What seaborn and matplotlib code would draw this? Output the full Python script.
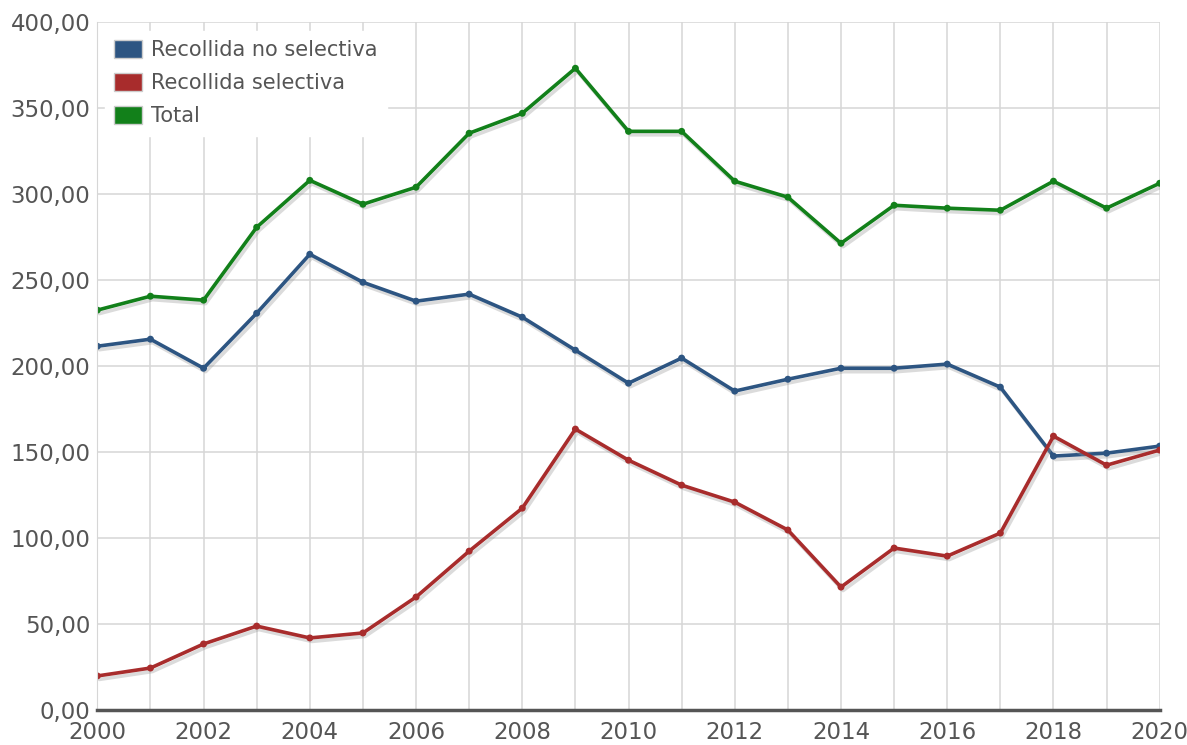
import pandas as pd
import matplotlib.pyplot as plt
import matplotlib.patheffects as pe
from matplotlib.patches import Patch
import seaborn as sns

years = list(range(2000, 2021))
no_selectiva = [211.6, 215.7, 198.8, 230.8, 265.1, 248.8, 237.8, 241.9, 228.5, 209.3, 190.1,
                204.7, 185.5, 192.4, 198.8, 198.8, 201.2, 187.8, 147.7, 149.4, 153.5]
selectiva = [19.8, 24.4, 38.4, 48.8, 41.9, 44.8, 65.7, 92.4, 117.4, 163.4, 145.3,
             130.8, 120.9, 104.7, 71.5, 94.2, 89.5, 102.9, 159.3, 142.4, 151.2]
total = [232.6, 240.7, 238.4, 280.8, 308.1, 294.2, 304.1, 335.5, 347.1, 373.3, 336.6,
         336.6, 307.6, 298.3, 271.5, 293.6, 291.9, 290.7, 307.6, 291.9, 306.4]

series = ["Recollida no selectiva", "Recollida selectiva", "Total"]
colors = ["#2d5582", "#a82c2c", "#12801a"]

df = pd.DataFrame({
    "Any": years * 3,
    "Valor": no_selectiva + selectiva + total,
    "Serie": [s for s in series for _ in years],
})

sns.set_style("white")
plt.rcParams['font.family'] = ['DejaVu Sans']

fig = plt.figure(figsize=(11.87, 7.45), dpi=100)
ax = fig.add_axes([0.082, 0.047, 0.895, 0.923])

sns.lineplot(data=df, x="Any", y="Valor", hue="Serie", palette=colors, marker="o",
             markersize=5, markeredgewidth=0, linewidth=2.6, legend=False, ax=ax,
             path_effects=[pe.SimpleLineShadow(offset=(1.5, -2.5), shadow_color="#999999", alpha=0.35),
                           pe.Normal()])

ax.set_xlim(2000, 2020)
ax.set_ylim(0, 400)
ax.set_xticks(range(2000, 2021, 2))
ax.set_xticks(range(2000, 2021), minor=True)
ax.set_yticks(range(0, 401, 50))
ax.set_yticklabels([f"{v},00" for v in range(0, 401, 50)])
ax.grid(True, which="both", axis="x", color="#d6d6d6", linewidth=1.1)
ax.grid(True, axis="y", color="#d6d6d6", linewidth=1.1)
ax.set_axisbelow(True)
ax.set_xlabel("")
ax.set_ylabel("")
ax.tick_params(axis="both", which="both", length=0, labelsize=16.5, labelcolor="#555555")
ax.tick_params(axis="y", pad=5)
ax.tick_params(axis="x", pad=8)
for s in ["top", "right"]:
    ax.spines[s].set_visible(False)
ax.spines["left"].set_color("#d6d6d6")
ax.spines["bottom"].set_color("#555555")
ax.spines["bottom"].set_linewidth(2.5)

handles = [Patch(facecolor=c, edgecolor="#cccccc", label=s) for c, s in zip(colors, series)]
leg = ax.legend(handles=handles, loc="upper left", bbox_to_anchor=(-0.003, 1.003), fontsize=15,
                frameon=True, framealpha=1, edgecolor="white", handlelength=1.35, handleheight=0.95,
                handletextpad=0.45, labelspacing=0.62, borderpad=0.45)
for t in leg.get_texts():
    t.set_color("#555555")

plt.savefig("out.png", dpi=100)
plt.close()
